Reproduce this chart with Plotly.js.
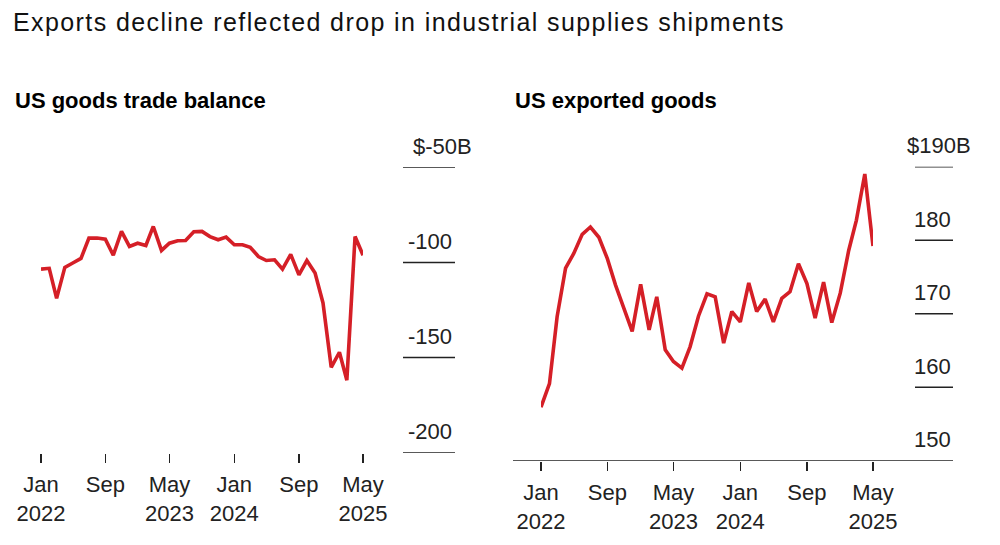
<!DOCTYPE html>
<html>
<head>
<meta charset="utf-8">
<script src="https://cdn.plot.ly/plotly-3.0.1.min.js"></script>
<style>
  html, body { margin: 0; padding: 0; background: #fff; }
  #chart { width: 1000px; height: 545px; }
  .gtitle { letter-spacing: 1.4px; }
</style>
</head>
<body>
<div id="chart"></div>
<script>
// monthly values, Jan 2022 .. May 2025 (billions of dollars)
var balance = [-103.5, -103.1, -118.9, -102.6, -100.3, -97.9, -87.2, -87.2, -87.8, -96.2,
  -83.7, -91.6, -89.9, -91.1, -81.1, -93.7, -89.9, -88.6, -88.5, -83.9,
  -83.7, -86.4, -88.1, -86.7, -90.7, -90.7, -92.0, -96.9, -99.0, -98.6,
  -103.5, -95.8, -106.5, -99.0, -105.6, -121.3, -155.1, -147.2, -161.9, -86.4,
  -96.2];
var exportsGoods = [157.3, 160.5, 169.6, 176.2, 178.2, 180.8, 181.8, 180.4, 177.5, 173.9,
  170.7, 167.6, 174.0, 167.8, 172.3, 165.1, 163.5, 162.6, 165.5, 169.7,
  172.7, 172.3, 166.0, 170.3, 168.9, 174.2, 170.3, 172.0, 168.9, 172.1,
  173.0, 176.8, 174.1, 169.4, 174.3, 168.8, 172.8, 178.6, 182.7, 189.0,
  179.2];

var xTickVals = ['2022-01-01', '2022-09-01', '2023-05-01', '2024-01-01', '2024-09-01', '2025-05-01'];
var xTickText = ['Jan<br>2022', 'Sep', 'May<br>2023', 'Jan<br>2024', 'Sep', 'May<br>2025'];

var leftTickVals = [-200, -150, -100, -50];
var leftTickText = ['-200', '-150', '-100', '$-50B'];
var rightTickVals = [150, 160, 170, 180, 190];
var rightTickText = ['150', '160', '170', '180', '$190B'];

var months = [];
for (var i = 0; i < balance.length; i++) {
  var yr = 2022 + Math.floor(i / 12);
  var mo = (i % 12) + 1;
  months.push(yr + '-' + (mo < 10 ? '0' + mo : mo) + '-01');
}

var red = '#d51f27';
var ink = '#222222';
var fontFam = 'Liberation Sans, Arial, Helvetica, sans-serif';

var trace1 = {
  x: months, y: balance, xaxis: 'x', yaxis: 'y',
  mode: 'lines', line: {color: red, width: 3.6},
  hoverinfo: 'skip'
};
var trace2 = {
  x: months, y: exportsGoods, xaxis: 'x2', yaxis: 'y2',
  mode: 'lines', line: {color: red, width: 3.6},
  hoverinfo: 'skip'
};

var xCommon = {
  type: 'date',
  range: ['2022-01-01', '2025-05-01'],
  tickmode: 'array', tickvals: xTickVals, ticktext: xTickText,
  ticks: 'outside', ticklen: 9, tickwidth: 1.5, tickcolor: ink,
  ticklabelstandoff: 3,
  showgrid: false, zeroline: false, showline: false,
  tickfont: {family: fontFam, size: 22, color: ink},
  fixedrange: true
};

var shapes = [];
var annotations = [];

leftTickVals.forEach(function(v, k) {
  shapes.push({type: 'line', xref: 'paper', yref: 'y', x0: 0.403, x1: 0.455, y0: v, y1: v,
    line: {color: ink, width: 1.6}});
  annotations.push({xref: 'paper', yref: 'y', x: 0.454, y: v, text: leftTickText[k],
    showarrow: false, xanchor: 'right', yanchor: 'middle', yshift: 21,
    xshift: leftTickText[k].indexOf('B') >= 0 ? 20 : 0,
    font: {family: fontFam, size: 22, color: ink}});
});

rightTickVals.forEach(function(v, k) {
  var x0 = v === rightTickVals[0] ? 0.513 : 0.915;
  shapes.push({type: 'line', xref: 'paper', yref: 'y2', x0: x0, x1: 0.953, y0: v, y1: v,
    line: {color: ink, width: 1.6}});
  annotations.push({xref: 'paper', yref: 'y2', x: 0.953, y: v, text: rightTickText[k],
    showarrow: false, xanchor: 'right', yanchor: 'middle', yshift: 21,
    xshift: rightTickText[k].indexOf('B') >= 0 ? 20 : 0,
    font: {family: fontFam, size: 22, color: ink}});
});

annotations.push({xref: 'paper', yref: 'paper', x: 0.013, y: 1 - 100 / 545,
  text: '<b>US goods trade balance</b>', showarrow: false, xanchor: 'left', yanchor: 'middle',
  font: {family: fontFam, size: 22, color: '#000'}});
annotations.push({xref: 'paper', yref: 'paper', x: 0.513, y: 1 - 100 / 545,
  text: '<b>US exported goods</b>', showarrow: false, xanchor: 'left', yanchor: 'middle',
  font: {family: fontFam, size: 22, color: '#000'}});

var layout = {
  width: 1000, height: 545,
  margin: {l: 0, r: 0, t: 0, b: 0},
  paper_bgcolor: '#fff', plot_bgcolor: '#fff',
  showlegend: false,
  title: {
    text: 'Exports decline reflected drop in industrial supplies shipments',
    x: 0.013, xanchor: 'left', y: 1 - 22 / 545, yanchor: 'middle',
    font: {family: fontFam, size: 25, color: '#111'}
  },
  xaxis: Object.assign({}, xCommon, {domain: [0.041, 0.363], anchor: 'y'}),
  yaxis: {domain: [1 - 452.7 / 545, 1 - 167.3 / 545], range: [-200, -50],
    showticklabels: false, showgrid: false, zeroline: false, showline: false,
    ticks: '', anchor: 'x', fixedrange: true},
  xaxis2: Object.assign({}, xCommon, {domain: [0.541, 0.873], anchor: 'y2'}),
  yaxis2: {domain: [1 - 460.8 / 545, 1 - 166.7 / 545], range: [150, 190],
    showticklabels: false, showgrid: false, zeroline: false, showline: false,
    ticks: '', anchor: 'x2', fixedrange: true},
  shapes: shapes,
  annotations: annotations
};

Plotly.newPlot('chart', [trace1, trace2], layout, {displayModeBar: false, staticPlot: true});
</script>
</body>
</html>
